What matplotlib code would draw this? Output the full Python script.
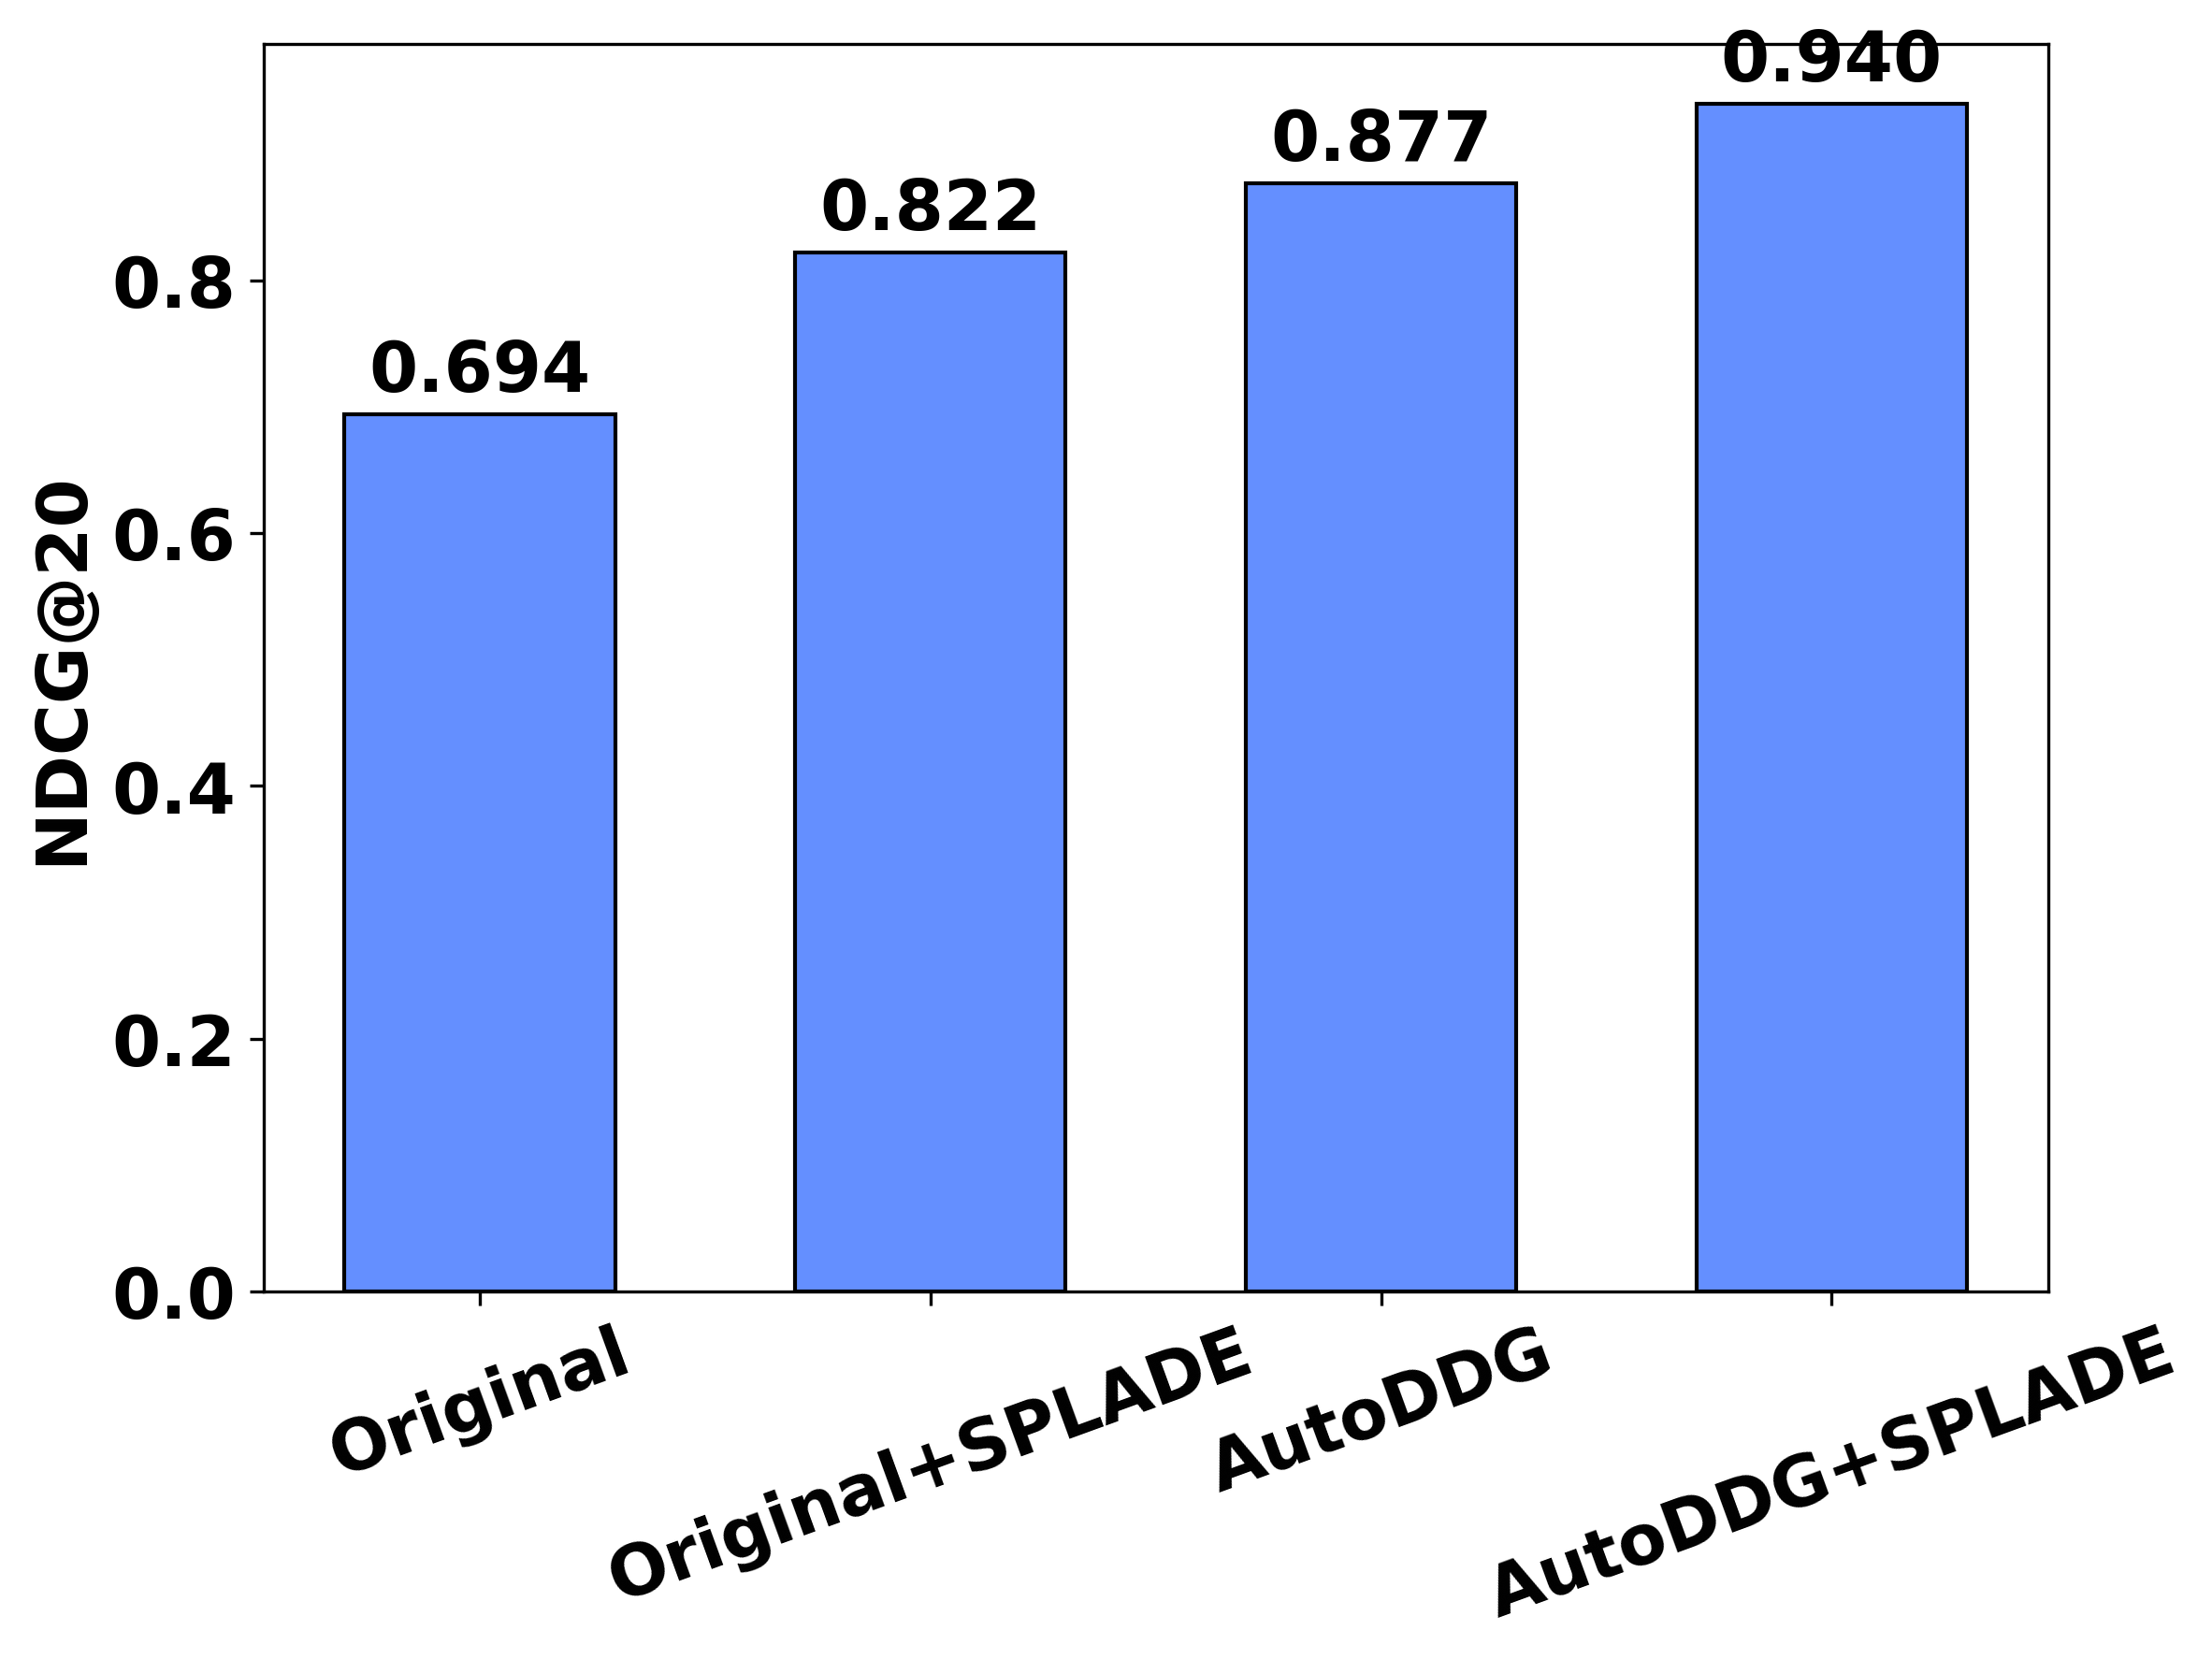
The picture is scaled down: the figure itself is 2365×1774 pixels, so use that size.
import matplotlib
matplotlib.use("Agg")
import matplotlib.pyplot as plt

methods = ["Original", "Original+SPLADE", "AutoDDG", "AutoDDG+SPLADE"]
ndcg20 = [0.694, 0.822, 0.877, 0.940]

plt.rcParams["font.family"] = "DejaVu Sans"
plt.rcParams["font.weight"] = "bold"

fig, ax = plt.subplots(figsize=(8, 6))
bars = ax.bar(methods, ndcg20, width=0.6, color="#648FFF", edgecolor="black", linewidth=1.0)
ax.bar_label(bars, labels=[f"{v:.3f}" for v in ndcg20], padding=2,
             fontsize=18, fontweight="bold")
ax.set_ylabel("NDCG@20", fontsize=18, fontweight="bold")
ax.tick_params(axis="both", labelsize=18)
plt.setp(ax.get_xticklabels(), rotation=20, fontweight="bold")
plt.setp(ax.get_yticklabels(), fontweight="bold")
plt.tight_layout()
plt.savefig("out.png", dpi=300, bbox_inches="tight")
